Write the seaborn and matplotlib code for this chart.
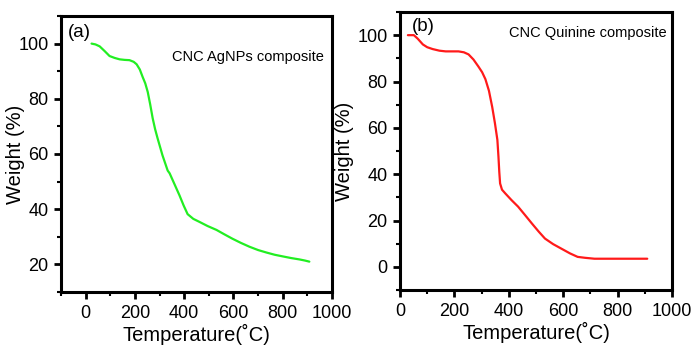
import matplotlib
matplotlib.use("Agg")
import matplotlib.pyplot as plt
import seaborn as sns
import pandas as pd
from matplotlib.ticker import MultipleLocator

# Data
temp_a = [24, 40, 57, 77, 97, 118, 138, 158, 178, 195, 207, 220, 231, 242, 252, 262, 272, 282, 292, 312, 333, 341, 361, 381, 398, 414, 437, 462, 495, 531, 563, 596, 630, 665, 700, 734, 767, 800, 834, 868, 890, 908]
weight_a = [100, 99.7, 99, 97.3, 95.5, 94.8, 94.3, 94.1, 94, 93.4, 92.5, 90.6, 88, 85.6, 82.5, 78, 73, 69, 65.7, 59.5, 54, 53, 49, 45, 41.3, 38.2, 36.5, 35.4, 33.9, 32.5, 30.9, 29.3, 27.8, 26.4, 25.2, 24.3, 23.5, 22.9, 22.3, 21.8, 21.4, 21]

temp_b = [29, 51, 65, 84, 100, 120, 145, 168, 215, 235, 252, 270, 288, 302, 314, 327, 339, 349, 358, 362, 365, 368, 375, 387, 410, 434, 460, 485, 510, 533, 563, 594, 625, 653, 680, 715, 800, 909]
weight_b = [100, 100, 98.5, 96, 94.8, 94, 93.3, 93, 93, 92.6, 91.7, 89.5, 86.5, 84, 81, 76, 69, 62, 54.8, 47.5, 41, 36, 33.3, 31.7, 28.8, 26, 22.3, 18.7, 15.2, 12.2, 9.8, 7.8, 5.8, 4.3, 3.9, 3.5, 3.5, 3.5]

label_a = "CNC AgNPs composite"
label_b = "CNC Quinine composite"
xlabel = "Temperature(˚C)"
ylabel = "Weight (%)"

sns.set_style("ticks", {"text.color": "black", "axes.labelcolor": "black",
                        "xtick.color": "black", "ytick.color": "black",
                        "axes.edgecolor": "black"})
plt.rcParams['font.family'] = ['Liberation Sans', 'DejaVu Sans']

fig = plt.figure(figsize=(6.92, 3.46), dpi=100)
W, H = 692, 346
axa = fig.add_axes([61/W, 1-292/H, (332-61)/W, (292-16)/H])
axb = fig.add_axes([400/W, 1-290/H, (672-400)/W, (290-12)/H])

dfa = pd.DataFrame({"T": temp_a, "W": weight_a})
dfb = pd.DataFrame({"T": temp_b, "W": weight_b})
sns.lineplot(data=dfa, x="T", y="W", ax=axa, color="#22ee22", lw=1.6)
sns.lineplot(data=dfb, x="T", y="W", ax=axb, color="#ff1a1a", lw=1.6)

axa.set_xlim(-100, 1000)
axa.set_ylim(10, 110)
axb.set_xlim(0, 1000)
axb.set_ylim(-10, 110)

for ax in (axa, axb):
    ax.xaxis.set_major_locator(MultipleLocator(200))
    ax.xaxis.set_minor_locator(MultipleLocator(100))
    ax.yaxis.set_major_locator(MultipleLocator(20))
    ax.yaxis.set_minor_locator(MultipleLocator(10))
    for s in ax.spines.values():
        s.set_visible(True)
        s.set_linewidth(2.2)
        s.set_color("black")
    ax.tick_params(which="major", direction="out", length=5, width=2, labelsize=13, pad=4,
                   colors="black")
    ax.tick_params(which="minor", direction="out", length=3, width=1.5, colors="black")
    ax.set_xlabel(xlabel, fontsize=14.5, labelpad=1.5, color="black")
    ax.set_ylabel(ylabel, fontsize=14.5, color="black")

axa.yaxis.set_label_coords(-0.132, 0.5)
axb.yaxis.set_label_coords(-0.168, 0.5)

axa.text(0.025, 0.97, "(a)", transform=axa.transAxes, fontsize=13.5, va="top", ha="left", color="black")
axa.text(0.41, 0.85, label_a, transform=axa.transAxes, fontsize=10.5, va="center", ha="left", color="black")
axb.text(0.045, 0.98, "(b)", transform=axb.transAxes, fontsize=13.5, va="top", ha="left", color="black")
axb.text(0.40, 0.925, label_b, transform=axb.transAxes, fontsize=10.5, va="center", ha="left", color="black")

fig.savefig("out.png", dpi=100)
